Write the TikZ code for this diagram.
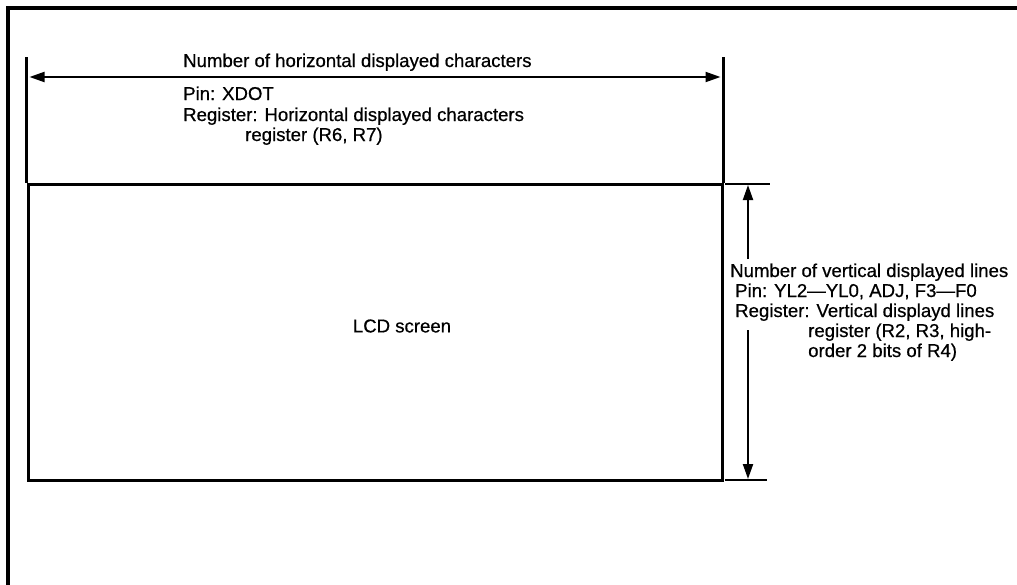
\documentclass[tikz,border=0pt]{standalone}
\usepackage{fontspec}
\setmainfont{Liberation Sans}[FakeBold=0.6]
\usetikzlibrary{arrows.meta,positioning}
\begin{document}
\begin{tikzpicture}[x=1pt,y=-1pt,font=\fontsize{18.6}{20}\selectfont,
  >={Triangle[length=15pt,width=10pt]},
  frame/.style={line width=3.5pt},
  edge/.style={line width=3pt},
  ext/.style={line width=2pt},
  dim/.style={line width=2pt},
  lbl/.style={anchor=base west,inner sep=0pt}]
\useasboundingbox (0,0) rectangle (1017,584);
% outer frame
\draw[frame] (8,600) -- (8,8) -- (1030,8);
% screen
\node[draw,edge,minimum width=694pt,minimum height=296pt,inner sep=0pt] (lcd) at (375,332) {};
\node[inner sep=0pt] (lcdtext) at (402,326) {LCD screen};
\draw[edge] (lcd.north west) -- ++(0,-126) coordinate (htl);
\draw[edge] (lcd.north east) -- ++(0,-126) coordinate (htr);
% horizontal dimension
\coordinate (hl) at (29.5,77);
\coordinate (hr) at (720.5,77);
\draw[dim,<->] (hl) -- (hr);
\node[lbl] (hnum) at (183,67) {Number of horizontal displayed characters};
\node[lbl] (hpin) at (183,100) {Pin: XDOT};
\node[lbl] (hreg) at (183,121) {Register: Horizontal displayed characters};
\node[lbl] (hreg2) at (245,141) {register (R6, R7)};
% vertical dimension
\coordinate (vt1) at (725,184);
\coordinate (vt2) at (770,184);
\coordinate (vb1) at (725,480);
\coordinate (vb2) at (767,480);
\draw[ext] (vt1) -- (vt2);
\draw[ext] (vb1) -- (vb2);
\coordinate (vtop) at (748,185);
\coordinate (vbot) at (748,479);
\coordinate (vgap1) at (748,259);
\coordinate (vgap2) at (748,330);
\draw[dim,->] (vgap1) -- (vtop);
\draw[dim,->] (vgap2) -- (vbot);
\node[lbl] (vnum) at (730,277) {Number of vertical displayed lines};
\node[lbl] (vpin) at (735,297) {Pin: YL2---YL0, ADJ, F3---F0};
\node[lbl] (vreg) at (735,317) {Register: Vertical displayd lines};
\node[lbl] (vreg2) at (808,337) {register (R2, R3, high-};
\node[lbl] (vreg3) at (808,357) {order 2 bits of R4)};
\end{tikzpicture}
\end{document}
